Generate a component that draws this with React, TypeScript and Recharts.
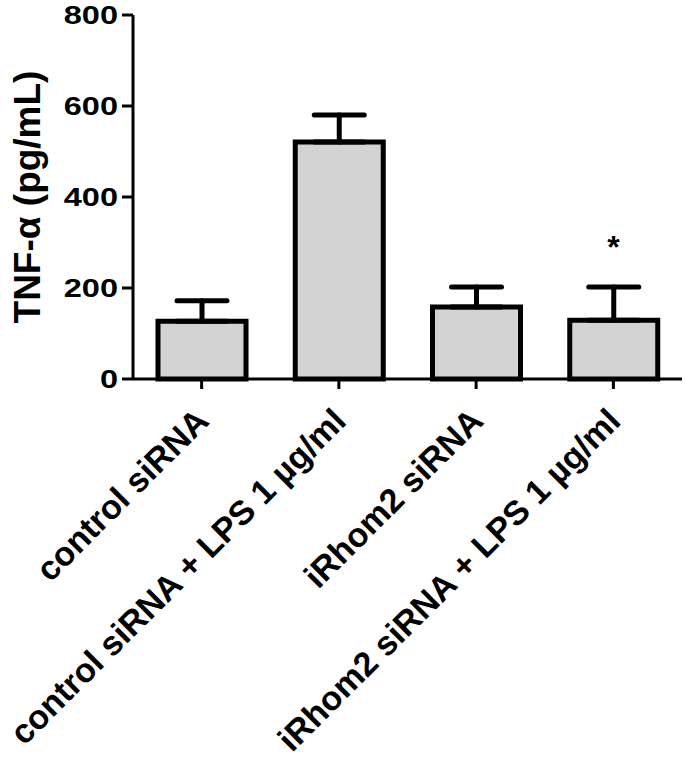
import { ComposedChart, Bar, ErrorBar, Scatter, XAxis, YAxis } from "recharts";

const groups = ["control siRNA", "control siRNA + LPS 1 µg/ml", "iRhom2 siRNA", "iRhom2 siRNA + LPS 1 µg/ml"];
const tnf = [127, 521, 158, 129];
const sem = [45, 59, 44, 73];
const stars = [null, null, null, 302];
const yTicks = [0, 200, 400, 600, 800];

const data = groups.map((g, i) => ({ g, tnf: tnf[i], err: [0, sem[i]], star: stars[i] }));

const FONT = "'Liberation Sans', Arial, Helvetica, sans-serif";

function GroupTick(props: any) {
  const { x, y, payload } = props;
  return (
    <g transform={`translate(${x + 9},${y + 32})`}>
      <text textAnchor="end" transform="rotate(-45)" fontSize={34} fontWeight="bold" fontFamily={FONT} fill="#000">
        {payload.value}
      </text>
    </g>
  );
}

// the source figure's digits are noticeably wide, so stretch them a bit
function ValueTick(props: any) {
  const { x, y, payload } = props;
  return (
    <g transform={`translate(${x},${y}) scale(1.25,1)`}>
      <text textAnchor="end" dy="0.36em" fontSize={26} fontWeight="bold" fontFamily={FONT} fill="#000">
        {payload.value}
      </text>
    </g>
  );
}

function Star(props: any) {
  const { cx, cy } = props;
  if (cx == null || cy == null || !isFinite(cy)) return <g />;
  return (
    <text x={cx} y={cy} dy="0.5em" textAnchor="middle" fontSize={32} fontWeight="bold" fontFamily={FONT} fill="#000">
      *
    </text>
  );
}

export default function App() {
  return (
    <div style={{ position: "absolute", left: 0, top: 0, background: "#fff" }}>
      <ComposedChart width={685} height={769} data={data} margin={{ top: 15, right: 3, left: 0, bottom: 0 }}>
        <XAxis
          dataKey="g"
          height={390}
          interval={0}
          tick={<GroupTick />}
          tickSize={10}
          axisLine={{ stroke: "#000", strokeWidth: 3 }}
          tickLine={{ stroke: "#000", strokeWidth: 3 }}
        />
        <YAxis
          width={133}
          domain={[0, 800]}
          ticks={yTicks}
          tickSize={11}
          tickMargin={4}
          axisLine={{ stroke: "#000", strokeWidth: 3 }}
          tickLine={{ stroke: "#000", strokeWidth: 3 }}
          tick={<ValueTick />}
          label={{
            value: "TNF-α (pg/mL)",
            angle: -90,
            position: "insideLeft",
            offset: 27,
            style: { textAnchor: "middle", fontSize: 37, fontWeight: "bold", fill: "#000", fontFamily: FONT },
          }}
        />
        <Bar dataKey="tnf" barSize={88} fill="#d3d3d3" stroke="#000" strokeWidth={5} isAnimationActive={false}>
          <ErrorBar dataKey="err" width={25} stroke="#000" strokeWidth={5} strokeLinecap="round" isAnimationActive={false} />
        </Bar>
        <Scatter dataKey="star" shape={<Star />} isAnimationActive={false} />
      </ComposedChart>
    </div>
  );
}
